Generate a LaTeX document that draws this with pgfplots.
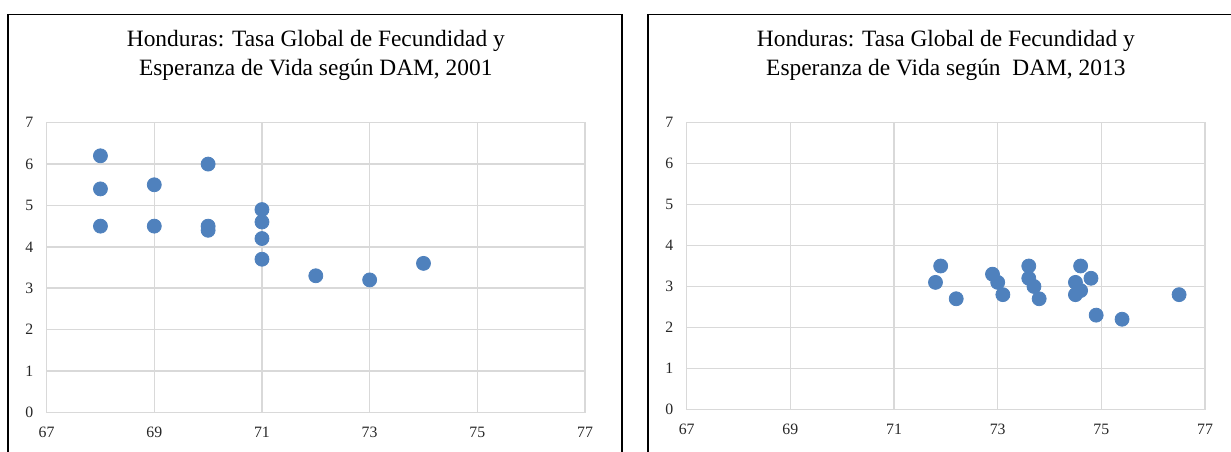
\documentclass[border=0pt]{standalone}
\usepackage{pgfplots}
\pgfplotsset{compat=1.18}
\usepackage{fontspec}
\setmainfont{Liberation Serif}
\definecolor{dot}{HTML}{4F81BD}
\definecolor{grid}{HTML}{D9D9D9}
\pgfplotsset{
  exc/.style={
    scale only axis,
    xmin=67, xmax=77, ymin=0, ymax=7,
    xtick={67,69,...,77}, ytick={0,1,...,7},
    grid=major,
    major grid style={draw=grid, line width=0.75pt},
    axis line style={draw=grid, line width=0.75pt},
    major tick length=0pt,
    /pgf/number format/assume math mode=true,
    tick label style={font=\fontsize{7.9}{9}\selectfont, inner sep=0pt, text=black!85},
    xticklabel style={anchor=north, yshift=-7pt},
    yticklabel style={anchor=east, xshift=-6.5pt},
    title style={at={(0.5,1)}, anchor=base, yshift=17.85pt, align=center,
      font=\fontsize{11.7}{14.25}\selectfont},
    clip=false,
  },
  dots/.style={only marks, mark=*, mark size=3.5pt, color=dot, mark options={fill=dot, draw=dot}},
}
\begin{document}
\begin{tikzpicture}
\useasboundingbox (0,0) rectangle (615.5pt,225.5pt);
\clip (0,0) rectangle (615.5pt,225.5pt);
\draw[line width=0.8pt] (4pt,-10pt) -- (4pt,218.25pt) -- (311pt,218.25pt) -- (311pt,-10pt);
\draw[line width=0.8pt] (324pt,-10pt) -- (324pt,218.25pt) -- (630pt,218.25pt);
\begin{axis}[exc, at={(23.3pt,19.35pt)}, anchor=south west, width=269.2pt, height=144.8pt,
  title={Honduras: Tasa Global de Fecundidad y\\Esperanza de Vida según DAM, 2001}]
\addplot[dots] coordinates {
(68,6.2) (68,5.4) (68,4.5)
(69,5.5) (69,4.5)
(70,6.0) (70,4.5) (70,4.4)
(71,4.9) (71,4.6) (71,4.2) (71,3.7)
(72,3.3) (73,3.2) (74,3.6)
};
\end{axis}
\begin{axis}[exc, at={(343.35pt,20.85pt)}, anchor=south west, width=259.15pt, height=143.3pt,
  title={Honduras: Tasa Global de Fecundidad y\\Esperanza de Vida según~ DAM, 2013}]
\addplot[dots] coordinates {
(71.9,3.5) (71.8,3.1) (72.2,2.7)
(72.9,3.3) (73.0,3.1) (73.1,2.8)
(73.6,3.5) (73.6,3.2) (73.7,3.0) (73.8,2.7)
(74.6,3.5) (74.5,3.1) (74.8,3.2) (74.6,2.9) (74.5,2.8)
(74.9,2.3) (75.4,2.2) (76.5,2.8)
};
\end{axis}
\end{tikzpicture}
\end{document}
